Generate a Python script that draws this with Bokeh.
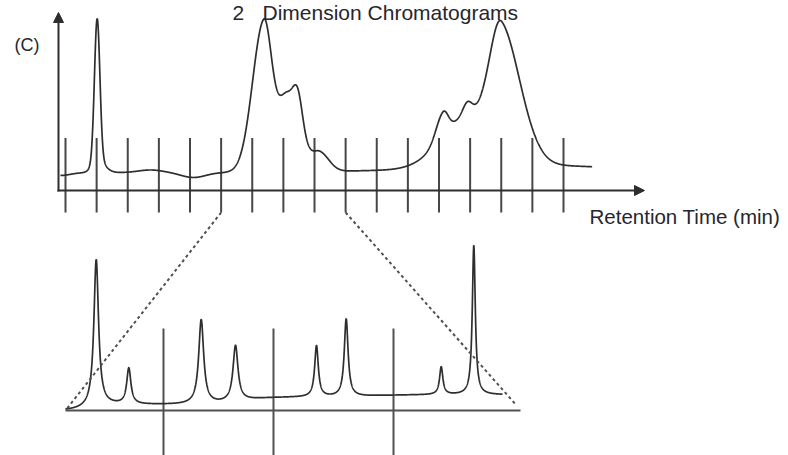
import numpy as np
from bokeh.plotting import figure
from bokeh.models import Range1d, Arrow, NormalHead
from bokeh.core.properties import value
from bokeh.embed import file_html
from bokeh.resources import INLINE

# ------------------------------------------------------------------ data
TITLE_NUM = "2"
TITLE_TEXT = "Dimension Chromatograms"
PANEL_LABEL = "(C)"
X_LABEL = "Retention Time (min)"

# first-dimension modulation markers (modulation number)
MOD_INDEX = list(range(17))
ZOOM_FROM = 5
ZOOM_TO = 9

# first-dimension chromatogram, described as a peak table
# (centre in modulations, height in % signal, left / right widths in modulations)
D1_BASE = 10.5
D1_CENTRE = [1.018, 1.018, 2.731, 4.112, -0.161, 6.371, 7.133, 7.470, 8.193,
             10.763, 13.012, 12.129, 12.916, 14.008, 15.422]
D1_HEIGHT = [82.0, 8.0, 1.5, -2.9, -1.7, 87.0, 45.0, 16.0, 10.0,
             1.3, 33.0, 14.1, 7.0, 72.0, 4.0]
D1_WIDTH_L = [0.087, 0.161, 0.386, 0.386, 0.321, 0.363, 0.321, 0.145, 0.225,
              1.928, 0.900, 0.225, 0.145, 0.369, 0.803]
D1_WIDTH_R = [0.087, 0.225, 0.386, 0.386, 0.321, 0.257, 0.418, 0.145, 0.289,
              1.928, 0.803, 0.161, 0.145, 0.627, 2.570]
D1_START = -0.161
D1_END = 16.92

# second-dimension chromatogram (expanded section), peak table
D2_CENTRE = [0.540, 1.113, 2.386, 2.989, 4.413, 4.935, 6.606, 7.179]
D2_HEIGHT = [89.0, 21.7, 51.0, 33.7, 31.0, 47.0, 16.8, 90.5]
D2_HALFWIDTH = [0.0492, 0.0440, 0.0527, 0.0527, 0.0387, 0.0404, 0.0352, 0.0316]
D2_DRIFT_POS = [0.440, 3.077, 5.363]
D2_DRIFT_H = [3.5, 4.5, 1.5]
D2_DRIFT_W = [0.141, 0.264, 0.352]
D2_END = 7.683
D2_AXIS_END = 8.0
D2_MARKS = [1.723, 3.657, 5.767]

# ------------------------------------------------------------------ layout (pixels of the picture)
FIG_W, FIG_H, OFF = 788, 455, 0
T_X0, T_PXU = 65.0, 31.125      # top panel: modulation 0 at px 65
T_Y0, T_PYU = 190.0, 1.71       # top panel: signal 0 at py 190
B_X0, B_PXU = 65.0, 56.875      # bottom panel
B_Y0, B_PYU = 410.0, 1.65

def top_x(px): return (px - T_X0) / T_PXU
def top_y(py): return (T_Y0 - py) / T_PYU
def bot_x(px): return (px - B_X0) / B_PXU
def bot_y(py): return (B_Y0 - py) / B_PYU

INK = "#2e2e2e"
GREY = "#474747"
TXT = "#26262e"
FONT = value("Liberation Sans")

p = figure(width=FIG_W, height=FIG_H, title=None,
           x_range=Range1d(top_x(OFF), top_x(OFF + FIG_W)),
           y_range=Range1d(top_y(OFF + FIG_H), top_y(OFF)),
           output_backend="svg", toolbar_location=None,
           x_axis_location=None, y_axis_location=None, min_border=0)
p.extra_x_ranges = {"d2": Range1d(bot_x(OFF), bot_x(OFF + FIG_W))}
p.extra_y_ranges = {"d2": Range1d(bot_y(OFF + FIG_H), bot_y(OFF))}
p.grid.visible = False
p.outline_line_color = None
p.background_fill_color = "white"
p.border_fill_color = "white"

# ---- top panel
mod_top = top_y(137.5)
mod_bot = top_y(212)
p.segment(x0=MOD_INDEX, y0=[mod_bot] * len(MOD_INDEX), x1=MOD_INDEX,
          y1=[mod_top] * len(MOD_INDEX), line_color=GREY, line_width=2)

p.add_layout(Arrow(end=NormalHead(size=10, fill_color=INK, line_color=INK),
                   x_start=top_x(58), y_start=top_y(191), x_end=top_x(58), y_end=top_y(12),
                   line_color=INK, line_width=2))
p.add_layout(Arrow(end=NormalHead(size=10, fill_color=INK, line_color=INK),
                   x_start=top_x(57), y_start=0, x_end=top_x(644), y_end=0,
                   line_color=INK, line_width=2))

t = np.linspace(D1_START, D1_END, 3000)
sig = np.full_like(t, D1_BASE)
for c, h, wl, wr in zip(D1_CENTRE, D1_HEIGHT, D1_WIDTH_L, D1_WIDTH_R):
    w = np.where(t < c, wl, wr)
    sig += h * np.exp(-0.5 * ((t - c) / w) ** 2)
p.line(t, sig, line_color=INK, line_width=1.7)

# ---- bottom panel
p.segment(x0=[0], y0=[0], x1=[D2_AXIS_END], y1=[0], line_color="#505050", line_width=2.2,
          x_range_name="d2", y_range_name="d2")
p.segment(x0=D2_MARKS, y0=[bot_y(470)] * 3, x1=D2_MARKS, y1=[bot_y(328)] * 3,
          line_color="#505050", line_width=2, x_range_name="d2", y_range_name="d2")

x2 = np.linspace(0, D2_END, 4000)
sig2 = np.zeros_like(x2)
for c, h, g in zip(D2_CENTRE, D2_HEIGHT, D2_HALFWIDTH):
    sig2 += h / (1 + ((x2 - c) / g) ** 2)
for c, h, w in zip(D2_DRIFT_POS, D2_DRIFT_H, D2_DRIFT_W):
    sig2 += h / (1 + np.exp(-(x2 - c) / w))
p.line(x2, sig2, line_color=INK, line_width=1.7, x_range_name="d2", y_range_name="d2")

# ---- dashed zoom lines (bottom end points converted into top-panel units)
def b2t(xb, yb):
    px = B_X0 + B_PXU * xb
    py = B_Y0 - B_PYU * yb
    return top_x(px), top_y(py)

lx, ly = b2t(0.0, 0.0)
rx, ry = b2t(7.92, 3.5)
p.segment(x0=[ZOOM_FROM, ZOOM_TO], y0=[mod_bot, mod_bot], x1=[lx, rx], y1=[ly, ry],
          line_color="#505050", line_width=2, line_dash="3 3")

# ---- texts
p.text(x=[top_x(232)], y=[top_y(12)], text=[TITLE_NUM], text_font=FONT,
       text_font_size="21px", text_color=TXT, text_baseline="middle", text_align="left")
p.text(x=[top_x(262)], y=[top_y(12)], text=[TITLE_TEXT], text_font=FONT,
       text_font_size="21px", text_color=TXT, text_baseline="middle", text_align="left")
p.text(x=[top_x(14)], y=[top_y(44)], text=[PANEL_LABEL], text_font=FONT,
       text_font_size="18px", text_color=TXT, text_baseline="middle", text_align="left")
p.text(x=[top_x(589)], y=[top_y(216)], text=[X_LABEL], text_font=FONT,
       text_font_size="20.5px", text_color=TXT, text_baseline="middle", text_align="left")

open("out.html", "w").write(file_html(p, INLINE))
